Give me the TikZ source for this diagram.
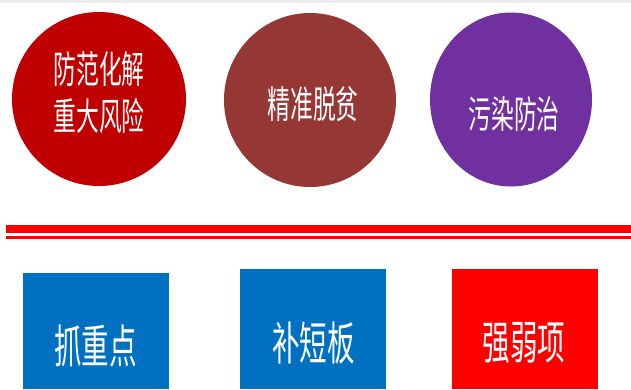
\documentclass[tikz,border=0pt]{standalone}
\usepackage{fontspec}
\usepackage{graphicx}
\newfontfamily\cjk{Noto Sans CJK SC}
\usetikzlibrary{shapes.geometric}
\definecolor{cred}{HTML}{C00000}
\definecolor{cbrown}{HTML}{953735}
\definecolor{cpurple}{HTML}{7030A0}
\definecolor{cblue}{HTML}{0070C0}
\definecolor{bred}{HTML}{FF0000}
\tikzset{
  blob/.style={ellipse, inner sep=0pt, draw=none},
  toptext/.style={text=white, inner sep=0pt, align=center, font=\cjk\fontsize{38}{46.5}\selectfont},
  bottext/.style={text=white, inner sep=0pt, align=center, font=\cjk\fontsize{46}{46}\selectfont},
  boxshape/.style={rectangle, inner sep=0pt, draw=none, anchor=north west}
}
\begin{document}
\begin{tikzpicture}[x=1pt,y=-1pt]
\useasboundingbox (0,0) rectangle (631,389);
\fill[white] (0,0) rectangle (631,389);
\fill[black!7] (0,0) rectangle (631,2.5);
% circles
\node[blob, fill=cred, minimum width=174pt, minimum height=174pt] (c1) at (99,99) {};
\node[blob, fill=cbrown, minimum width=172pt, minimum height=174pt] (c2) at (310,100) {};
\node[blob, fill=cpurple, minimum width=162pt, minimum height=174pt] (c3) at (511,99.5) {};
\node[toptext] (t1) at (99,92.5) {\scalebox{0.6}[1]{防范化解}\\\scalebox{0.6}[1]{重大风险}};
\node[toptext] (t2) at (313,104) {\scalebox{0.6}[1]{精准脱贫}};
\node[toptext] (t3) at (514,114.5) {\scalebox{0.6}[1]{污染防治}};
% double line
\fill[bred] (6,225) rectangle (631,233.3);
\fill[bred] (6,236) rectangle (631,238.7);
% boxes
\node[boxshape, fill=cblue, minimum width=146pt, minimum height=116pt] (b1) at (23,273) {};
\node[boxshape, fill=cblue, minimum width=145.5pt, minimum height=120pt] (b2) at (240,269) {};
\node[boxshape, fill=bred, minimum width=146pt, minimum height=120pt] (b3) at (451.5,269) {};
\node[bottext] (s1) at (95.5,346) {\scalebox{0.6}[1]{抓重点}};
\node[bottext] (s2) at (313.5,343) {\scalebox{0.6}[1]{补短板}};
\node[bottext] (s3) at (524,343) {\scalebox{0.6}[1]{强弱项}};
\end{tikzpicture}
\end{document}
